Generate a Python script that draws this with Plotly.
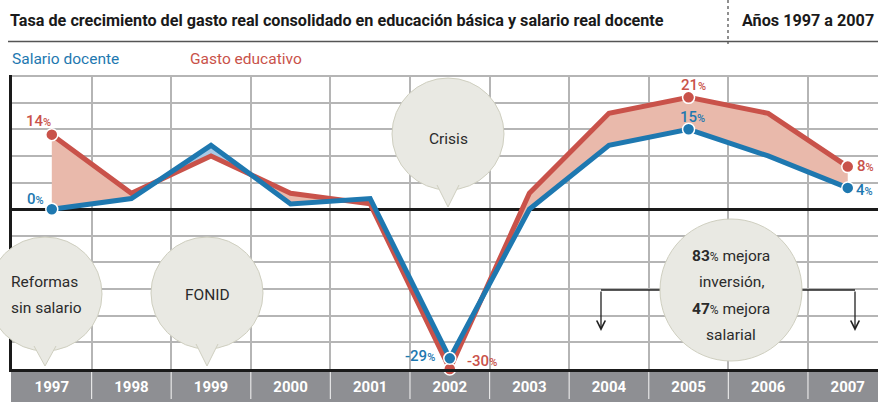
import plotly.graph_objects as go
import numpy as np

# ---------------- data ----------------
years = ["1997", "1998", "1999", "2000", "2001", "2002", "2003", "2004", "2005", "2006", "2007"]
gasto = [14, 3, 10, 3, 1, -30, 3, 18, 21, 18, 8]        # Gasto educativo (%)
salario = [0, 2, 12, 1, 2, -28, 0, 12, 15, 10, 4]       # Salario docente (%)
gasto_labels = {0: "14", 5: "-30", 8: "21", 10: "8"}
salario_labels = {0: "0", 5: "-29", 8: "15", 10: "4"}

W, H = 878, 402
FONT = "Roboto, sans-serif"
RED = "#c9524a"
BLUE = "#1e78b0"
SALMON = "#e9b9ab"
LBLUE = "#a9c9e6"
BUB_FILL = "#e9e9e3"
BUB_LINE = "#cfcfc0"


def PX(x):
    return x / W


def PY(y):
    return 1 - y / H


x = np.arange(len(years), dtype=float)
g = np.array(gasto, dtype=float)
s = np.array(salario, dtype=float)

fig = go.Figure()

# ---- fill between the two series (split where they cross) ----
regions = []
cur = [(x[0], g[0], s[0])]
for i in range(len(x) - 1):
    d0, d1 = g[i] - s[i], g[i + 1] - s[i + 1]
    if d0 * d1 < 0:
        t = d0 / (d0 - d1)
        xc = x[i] + t * (x[i + 1] - x[i])
        yc = g[i] + t * (g[i + 1] - g[i])
        cur.append((xc, yc, yc))
        regions.append(cur)
        cur = [(xc, yc, yc)]
    cur.append((x[i + 1], g[i + 1], s[i + 1]))
regions.append(cur)
for reg in regions:
    xs = [p[0] for p in reg]
    up = [p[1] for p in reg]
    lo = [p[2] for p in reg]
    col = SALMON if sum(u - l for u, l in zip(up, lo)) >= 0 else LBLUE
    fig.add_trace(go.Scatter(
        x=xs + xs[::-1], y=up + lo[::-1], fill="toself", fillcolor=col,
        line=dict(width=0), mode="lines", hoverinfo="skip", showlegend=False))

# ---- lines ----
fig.add_trace(go.Scatter(x=x, y=g, mode="lines", line=dict(color=RED, width=5),
                         showlegend=False, cliponaxis=False))
fig.add_trace(go.Scatter(x=x, y=s, mode="lines", line=dict(color=BLUE, width=5),
                         showlegend=False, cliponaxis=False))
gi = sorted(gasto_labels)
si = sorted(salario_labels)
fig.add_trace(go.Scatter(x=x[gi], y=g[gi], mode="markers",
                         marker=dict(color=RED, size=12, line=dict(color="white", width=1.5)),
                         showlegend=False, cliponaxis=False))
fig.add_trace(go.Scatter(x=x[si], y=s[si], mode="markers",
                         marker=dict(color=BLUE, size=12, line=dict(color="white", width=1.5)),
                         showlegend=False, cliponaxis=False))

annotations = []
shapes = []

# value labels
g_shift = {0: (-13, 14), 5: (32, 8), 8: (5, 12), 10: (18, 1)}
s_shift = {0: (-16, 10), 5: (-30, 2), 8: (4, 12), 10: (17, -2)}
for i, lab in gasto_labels.items():
    annotations.append(dict(x=i, y=gasto[i], xref="x", yref="y", showarrow=False,
                            xanchor="center", yanchor="middle",
                            text=f"{lab}<span style='font-size:11px'>%</span>",
                            font=dict(family=FONT, size=15, color=RED, weight=500),
                            xshift=g_shift[i][0], yshift=g_shift[i][1]))
for i, lab in salario_labels.items():
    annotations.append(dict(x=i, y=salario[i], xref="x", yref="y", showarrow=False,
                            xanchor="center", yanchor="middle",
                            text=f"{lab}<span style='font-size:11px'>%</span>",
                            font=dict(family=FONT, size=15, color=BLUE, weight=500),
                            xshift=s_shift[i][0], yshift=s_shift[i][1]))

# ---- year band ----
shapes.append(dict(type="rect", xref="paper", yref="paper", x0=PX(11), x1=1,
                   y0=0, y1=PY(370), fillcolor="#8e8f93", line=dict(width=0), layer="below"))
for k in range(len(years) - 1):
    shapes.append(dict(type="line", xref="x", yref="paper", x0=k + 0.5, x1=k + 0.5,
                       y0=PY(399), y1=PY(372), line=dict(color="#e6e6e6", width=1.2),
                       layer="below"))


# ---- bubbles ----
def bubble(cx, cy, r, tip=None):
    shapes.append(dict(type="circle", xref="paper", yref="paper",
                       xsizemode="pixel", ysizemode="pixel",
                       xanchor=PX(cx), yanchor=PY(cy), x0=-r, x1=r, y0=-r, y1=r,
                       fillcolor=BUB_FILL, line=dict(color=BUB_LINE, width=1), layer="above"))
    if tip:
        b = r - 5
        shapes.append(dict(type="path", xref="paper", yref="paper",
                           xsizemode="pixel", ysizemode="pixel",
                           xanchor=PX(cx), yanchor=PY(cy),
                           path=f"M -11,-{b} L 0,-{tip} L 11,-{b}",
                           fillcolor=BUB_FILL, line=dict(color=BUB_LINE, width=1), layer="above"))


def btext(cx, cy, txt, size=15.5):
    annotations.append(dict(x=PX(cx), y=PY(cy), xref="paper", yref="paper", showarrow=False,
                            xanchor="center", yanchor="middle",
                            text=txt, font=dict(family=FONT, size=size, color="#2b2b2b")))


bubble(448, 134, 56, tip=73)
btext(448, 139, "Crisis")
bubble(45, 294, 57, tip=72)
btext(44, 282, "Reformas")
btext(46, 308, "sin salario")
bubble(207, 293, 56, tip=73)
btext(207, 295, "FONID")

# bracket lines for the 2004-2007 bubble
for (xa, xb) in [(601, 660), (802, 855)]:
    shapes.append(dict(type="line", xref="paper", yref="paper", x0=PX(xa), x1=PX(xb),
                       y0=PY(290), y1=PY(290), line=dict(color="#222", width=1.3), layer="above"))
for xv in (601, 855):
    annotations.append(dict(x=PX(xv), y=PY(331), xref="paper", yref="paper", ax=0, ay=-41,
                            axref="pixel", ayref="pixel", text="", showarrow=True,
                            arrowhead=5, arrowsize=1.3, arrowwidth=1.3, arrowcolor="#222"))
bubble(731, 290, 71)
btext(731, 256, "<b>83</b><span style='font-size:12px'>%</span> mejora")
btext(731, 282, "inversión,")
btext(731, 309, "<b>47</b><span style='font-size:12px'>%</span> mejora")
btext(731, 335, "salarial")

# ---- header ----
annotations.append(dict(x=PX(8), y=PY(20), xref="paper", yref="paper", showarrow=False,
                        xanchor="left", yanchor="middle",
                        text="<b>Tasa de crecimiento del gasto real consolidado en educación básica y salario real docente</b>",
                        font=dict(family=FONT, size=16.2, color="#1a1a1a")))
annotations.append(dict(x=PX(740), y=PY(20), xref="paper", yref="paper", showarrow=False,
                        xanchor="left", yanchor="middle", text="<b>Años 1997 a 2007</b>",
                        font=dict(family=FONT, size=16.2, color="#1a1a1a")))
shapes.append(dict(type="line", xref="paper", yref="paper", x0=PX(8), x1=1,
                   y0=PY(41.5), y1=PY(41.5), line=dict(color="#555", width=1.5)))
shapes.append(dict(type="line", xref="paper", yref="paper", x0=PX(728), x1=PX(728),
                   y0=PY(0), y1=PY(44), line=dict(color="#555", width=1.3, dash="dot")))
annotations.append(dict(x=PX(10), y=PY(59), xref="paper", yref="paper", showarrow=False,
                        xanchor="left", yanchor="middle", text="Salario docente",
                        font=dict(family=FONT, size=15.5, color=BLUE)))
annotations.append(dict(x=PX(188), y=PY(59), xref="paper", yref="paper", showarrow=False,
                        xanchor="left", yanchor="middle", text="Gasto educativo",
                        font=dict(family=FONT, size=15.5, color=RED)))

fig.update_layout(
    width=W, height=H, margin=dict(l=0, r=0, t=0, b=0),
    paper_bgcolor="white", plot_bgcolor="white",
    shapes=shapes, annotations=annotations,
    xaxis=dict(domain=[PX(12), 1], range=[-0.5, 10.38],
               tickvals=list(range(len(years))), ticktext=[f"<b>{y}</b>" for y in years],
               tickfont=dict(family=FONT, size=15, color="white"),
               ticks="", ticklabelstandoff=2, showgrid=False,
               minor=dict(tickvals=[k + 0.5 for k in range(len(years))], showgrid=True,
                          gridcolor="#b5b5b5", gridwidth=1.5, ticks=""),
               showline=True, linecolor="#1a1a1a", linewidth=2.5, zeroline=False, fixedrange=True),
    yaxis=dict(domain=[PY(369), PY(75)], range=[-30, 25.2],
               tickvals=[-25, -20, -15, -10, -5, 0, 5, 10, 15, 20, 25],
               showticklabels=False, ticks="", showgrid=True,
               gridcolor="#b5b5b5", gridwidth=1.5,
               zeroline=True, zerolinecolor="#1a1a1a", zerolinewidth=2.5,
               showline=True, linecolor="#1a1a1a", linewidth=2.5, fixedrange=True),
)

fig.write_html("out.html", config={"displayModeBar": False},
               post_script="document.body.style.margin='0';document.body.style.overflow='hidden';")
